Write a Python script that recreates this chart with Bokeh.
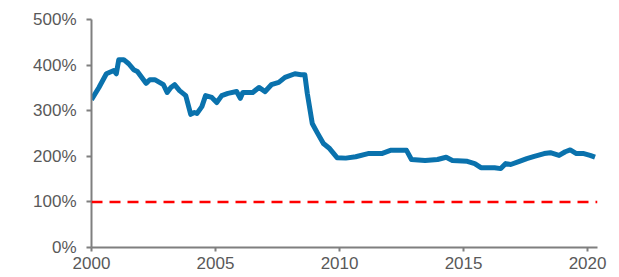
from bokeh.plotting import figure
from bokeh.models import Range1d, FixedTicker, NumeralTickFormatter, Span
from bokeh.embed import file_html
from bokeh.resources import INLINE

years = [2000.0, 2000.3, 2000.6, 2000.9, 2001.0, 2001.1, 2001.3, 2001.5, 2001.7, 2001.85,
         2002.2, 2002.35, 2002.55, 2002.9, 2003.05, 2003.2, 2003.35, 2003.55, 2003.8, 2004.0,
         2004.15, 2004.25, 2004.45, 2004.6, 2004.85, 2005.05, 2005.25, 2005.5, 2005.85, 2006.0,
         2006.1, 2006.5, 2006.75, 2007.0, 2007.25, 2007.55, 2007.8, 2008.2, 2008.45, 2008.6,
         2008.7, 2008.9, 2009.1, 2009.35, 2009.6, 2009.9, 2010.25, 2010.65, 2011.15, 2011.7,
         2012.05, 2012.7, 2012.9, 2013.45, 2013.95, 2014.3, 2014.55, 2015.15, 2015.45, 2015.7,
         2016.25, 2016.5, 2016.7, 2016.9, 2017.25, 2017.55, 2017.85, 2018.25, 2018.5, 2018.85,
         2019.1, 2019.3, 2019.55, 2019.85, 2020.1, 2020.3]
ratio = [3.24, 3.51, 3.81, 3.88, 3.81, 4.12, 4.12, 4.03, 3.90, 3.86,
         3.60, 3.68, 3.68, 3.57, 3.40, 3.51, 3.57, 3.44, 3.33, 2.92,
         2.96, 2.94, 3.09, 3.33, 3.29, 3.18, 3.33, 3.38, 3.42, 3.27,
         3.40, 3.40, 3.51, 3.42, 3.57, 3.62, 3.73, 3.81, 3.79, 3.79,
         3.38, 2.72, 2.52, 2.28, 2.17, 1.97, 1.96, 1.99, 2.06, 2.06,
         2.13, 2.13, 1.93, 1.91, 1.93, 1.98, 1.91, 1.89, 1.84, 1.75,
         1.75, 1.73, 1.84, 1.82, 1.89, 1.95, 2.00, 2.06, 2.08, 2.02,
         2.10, 2.14, 2.06, 2.06, 2.02, 1.98]
threshold = 1.0
x_ticks = [2000, 2005, 2010, 2015, 2020]
y_ticks = [0, 1, 2, 3, 4, 5]

p = figure(width=611, height=274, output_backend="svg", toolbar_location=None,
           x_range=Range1d(2000, 2020.4), y_range=Range1d(0, 5),
           min_border_left=91, min_border_right=14, min_border_top=19, min_border_bottom=27)
p.outline_line_color = None
p.grid.visible = False
p.background_fill_color = "white"
p.border_fill_color = "white"

p.line(years, ratio, line_color="#0a72ad", line_width=5, line_join="round")
p.add_layout(Span(location=threshold, dimension="width", line_color="#ff0000",
                  line_width=2.5, line_dash="11 7"))

for ax in (p.xaxis[0], p.yaxis[0]):
    ax.axis_line_color = "#7f7f7f"
    ax.axis_line_width = 2
    ax.major_tick_line_color = "#7f7f7f"
    ax.major_tick_line_width = 2
    ax.minor_tick_line_color = None
    ax.major_tick_in = 0
    ax.major_label_text_font = "Liberation Sans"
    ax.major_label_text_font_size = "17px"
    ax.major_label_text_color = "#595959"

p.xaxis.ticker = FixedTicker(ticks=x_ticks)
p.xaxis.major_tick_out = 4
p.xaxis.major_label_standoff = 5
p.yaxis.ticker = FixedTicker(ticks=y_ticks)
p.yaxis.formatter = NumeralTickFormatter(format="0%")
p.yaxis.major_tick_out = 5
p.yaxis.major_label_standoff = 10

open("out.html", "w").write(file_html(p, INLINE))
